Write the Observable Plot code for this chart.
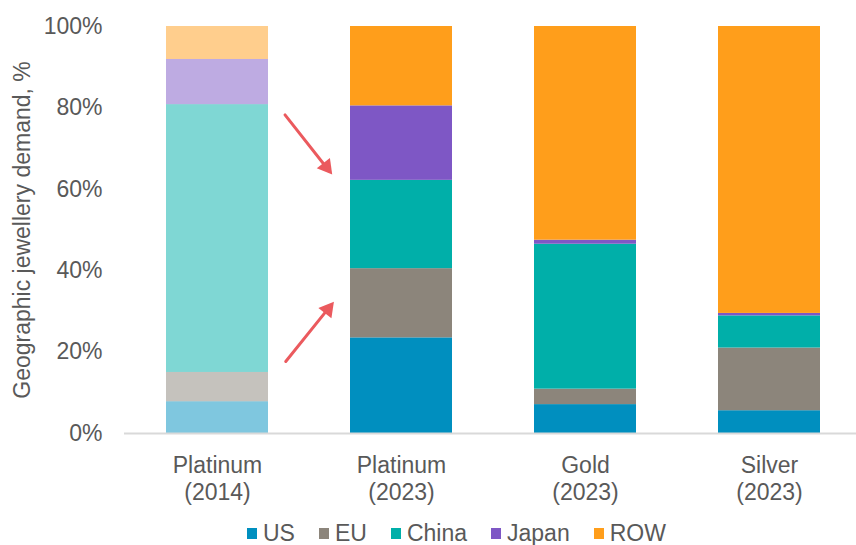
<!DOCTYPE html>
<html>
<head>
<meta charset="utf-8">
<script src="https://cdn.jsdelivr.net/npm/d3@7"></script>
<script src="https://cdn.jsdelivr.net/npm/@observablehq/plot@0.6"></script>
<style>
  html, body { margin: 0; padding: 0; background: #fff; overflow: hidden; }
  body { font-family: "Liberation Sans", Arial, sans-serif; width: 856px; height: 545px; position: relative; }
  #legend { position: absolute; left: 247px; top: 518px; height: 30px; display: flex; align-items: center; font-size: 23px; color: #595959; line-height: 30px; }
  .item { display: flex; align-items: center; margin-right: 24px; }
  .sw { width: 10px; height: 11px; margin-right: 6px; }
</style>
</head>
<body>
<div id="chart"></div>
<div id="legend"></div>
<script>
// ---- data ----
const categories = ["Platinum\n(2014)", "Platinum\n(2023)", "Gold\n(2023)", "Silver\n(2023)"];
const regions = ["US", "EU", "China", "Japan", "ROW"];
const US    = [7.8, 23.5, 7.1, 5.6];
const EU    = [7.2, 17.0, 3.8, 15.4];
const China = [65.8, 21.7, 35.6, 7.9];
const Japan = [11.1, 18.3, 1.0, 0.6];
const ROW   = [8.1, 19.5, 52.5, 70.5];
const yTicks = [0, 20, 40, 60, 80, 100];
const yLabel = "Geographic jewellery demand, %";
const fadedCategory = "Platinum\n(2014)";
// annotation arrows (from 2014 platinum bar towards 2023 platinum bar)
const arrows = [
  {from: categories[0], to: categories[1], y1: 99.3, y2: 42.0},
  {from: categories[0], to: categories[1], y1: -3.2, y2: 53.1}
];
const arrowHeadTop = [{x: categories[1], y: 65.5}];
const arrowHeadBottom = [{x: categories[1], y: 30.5}];

const colors = ["#008FBF", "#8C857B", "#00AFA9", "#7E57C5", "#FF9E1B"];
const series = [US, EU, China, Japan, ROW];

const table = [];
categories.forEach((c, i) => {
  regions.forEach((r, j) => {
    table.push({category: c, region: r, share: series[j][i]});
  });
});

const arrowColor = "#EB5A5E";

const plot = Plot.plot({
  width: 856,
  height: 510,
  marginLeft: 124,
  marginRight: 0,
  marginTop: 26,
  marginBottom: 77,
  style: {fontFamily: "'Liberation Sans', Arial, sans-serif", fontSize: "23px", color: "#595959", background: "#fff", overflow: "visible"},
  x: {domain: categories, range: [124, 861], paddingInner: 0.447, paddingOuter: 0.2225, label: null},
  y: {domain: [0, 100], label: null},
  color: {domain: regions, range: colors},
  marks: [
    Plot.barY(table, {
      x: "category", y: "share", fill: "region",
      fillOpacity: d => d.category === fadedCategory ? 0.5 : 1
    }),
    Plot.ruleY([0], {stroke: "#D9D9D9", strokeWidth: 2}),
    Plot.axisY({ticks: yTicks, tickFormat: d => d + "%", tickSize: 0, tickPadding: 22, label: null, fontSize: 23, fill: "#595959"}),
    Plot.axisX({tickSize: 0, tickPadding: 20, label: null, lineHeight: 1.17, fontSize: 23, fill: "#595959"}),
    Plot.text([yLabel], {frameAnchor: "left", textAnchor: "middle", rotate: -90, dx: -102, fill: "#595959", fontSize: 23}),
    Plot.arrow(arrows, {
      x1: "from", x2: "to", y1: "y1", y2: "y2",
      stroke: arrowColor, strokeWidth: 3, insetStart: 109, insetEnd: 117, headLength: 0
    }),
    Plot.dot(arrowHeadTop, {x: "x", y: "y", dx: -75.2, symbol: "triangle", r: 6.2, rotate: 142, fill: arrowColor, stroke: "none"}),
    Plot.dot(arrowHeadBottom, {x: "x", y: "y", dx: -73.6, symbol: "triangle", r: 6.2, rotate: 38.6, fill: arrowColor, stroke: "none"})
  ]
});
document.getElementById("chart").appendChild(plot);

const legend = document.getElementById("legend");
regions.forEach((r, i) => {
  const item = document.createElement("div");
  item.className = "item";
  const sw = document.createElement("span");
  sw.className = "sw";
  sw.style.background = colors[i];
  const t = document.createElement("span");
  t.textContent = r;
  item.appendChild(sw);
  item.appendChild(t);
  legend.appendChild(item);
});
</script>
</body>
</html>
